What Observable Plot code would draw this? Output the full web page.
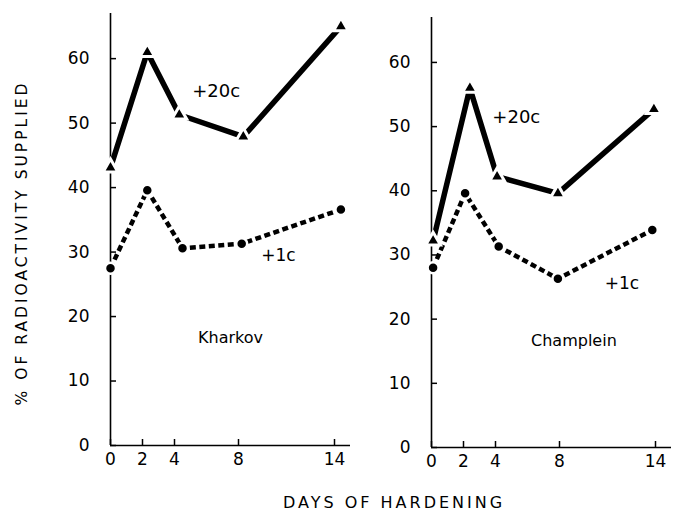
<!DOCTYPE html>
<html>
<head>
<meta charset="utf-8">
<script src="https://cdn.jsdelivr.net/npm/d3@7"></script>
<script src="https://cdn.jsdelivr.net/npm/@observablehq/plot@0.6"></script>
<style>
  html, body { margin: 0; padding: 0; background: #fff; }
  #wrap { position: relative; width: 675px; height: 510px; overflow: hidden; font-family: "DejaVu Sans", sans-serif; }
  #wrap svg { position: absolute; top: 0; }
  .ylab { position: absolute; left: 22px; top: 243px; transform: translate(-50%, -50%) rotate(-90deg); white-space: nowrap; font-size: 15.5px; letter-spacing: 3px; }
  .xlab { position: absolute; left: 394px; top: 502px; transform: translate(-50%, -50%); white-space: nowrap; font-size: 16px; letter-spacing: 3px; }
</style>
</head>
<body>
<div id="wrap">
  <div class="ylab">% OF RADIOACTIVITY SUPPLIED</div>
  <div class="xlab">DAYS OF HARDENING</div>
</div>
<script>
// Data
const xTicks = [0, 2, 4, 8, 14];
const yTicks = [0, 10, 20, 30, 40, 50, 60];

const kharkovDays20 = [0, 2.3, 4.3, 8.3, 14.4];
const kharkov20 = [43.1, 61.0, 51.3, 47.9, 65.0];
const kharkovDays1 = [0, 2.3, 4.5, 8.2, 14.4];
const kharkov1 = [27.5, 39.6, 30.6, 31.3, 36.6];

const champleinDays20 = [0.1, 2.4, 4.1, 7.9, 13.9];
const champlein20 = [32.2, 56.0, 42.2, 39.6, 52.7];
const champleinDays1 = [0.1, 2.1, 4.2, 7.9, 13.8];
const champlein1 = [28.0, 39.6, 31.3, 26.3, 33.9];

const toRows = (xs, ys) => xs.map((d, i) => ({day: d, pct: ys[i]}));

function panel({days20, vals20, days1, vals1, name, lab20, lab1, labName, width, height, marginLeft, marginTop, marginRight}) {
  const hi = toRows(days20, vals20);
  const lo = toRows(days1, vals1);
  return Plot.plot({
    width, height, marginLeft, marginTop, marginRight, marginBottom: 35,
    style: {fontFamily: "DejaVu Sans, sans-serif", fontSize: "16px", color: "#000", background: "transparent"},
    x: {domain: [0, 15], ticks: xTicks, tickFormat: d => d, label: null},
    y: {domain: [0, 67], ticks: yTicks, tickFormat: d => d, label: null},
    marks: [
      Plot.axisX({ticks: xTicks, tickSize: -6, tickPadding: 13, strokeWidth: 1.5, label: null, fontSize: 17}),
      Plot.axisY({ticks: yTicks, tickSize: -6, tickPadding: 27, strokeWidth: 1.5, label: null, fontSize: 17}),
      Plot.ruleY([0], {stroke: "#000", strokeWidth: 1.6}),
      Plot.ruleX([0], {stroke: "#000", strokeWidth: 1.6}),
      Plot.line(lo, {x: "day", y: "pct", stroke: "#000", strokeWidth: 4.5, strokeDasharray: "6,3.5", strokeLinecap: "butt"}),
      Plot.line(hi, {x: "day", y: "pct", stroke: "#000", strokeWidth: 5.5, strokeLinecap: "butt"}),
      Plot.dot(lo, {x: "day", y: "pct", r: 5.5, fill: "#000", stroke: "#fff", strokeWidth: 2.5}),
      Plot.dot(hi, {x: "day", y: "pct", symbol: "triangle", r: 5.5, fill: "#000", stroke: "#fff", strokeWidth: 3}),
      Plot.text([lab20.t], {x: lab20.x, y: lab20.y, text: d => d, fontSize: 18, letterSpacing: 1.5}),
      Plot.text([lab1.t], {x: lab1.x, y: lab1.y, text: d => d, fontSize: 17, letterSpacing: 1.5}),
      Plot.text([name], {x: labName.x, y: labName.y, text: d => d, fontSize: 16, letterSpacing: 2.5})
    ]
  });
}

const left = panel({
  days20: kharkovDays20, vals20: kharkov20, days1: kharkovDays1, vals1: kharkov1,
  name: "Kharkov",
  lab20: {t: "+20c", x: 6.6, y: 54.9},
  lab1: {t: "+1c", x: 10.5, y: 29.4},
  labName: {x: 7.5, y: 16.7},
  width: 355, height: 480, marginLeft: 110, marginTop: 13, marginRight: 5
});
const right = panel({
  days20: champleinDays20, vals20: champlein20, days1: champleinDays1, vals1: champlein1,
  name: "Champlein",
  lab20: {t: "+20c", x: 5.3, y: 51.5},
  lab1: {t: "+1c", x: 11.9, y: 25.5},
  labName: {x: 8.9, y: 16.6},
  width: 320, height: 482, marginLeft: 76, marginTop: 17, marginRight: 4
});
left.style.left = "0px";
right.style.left = "355px";
const wrap = document.getElementById("wrap");
wrap.appendChild(left);
wrap.appendChild(right);
</script>
</body>
</html>
